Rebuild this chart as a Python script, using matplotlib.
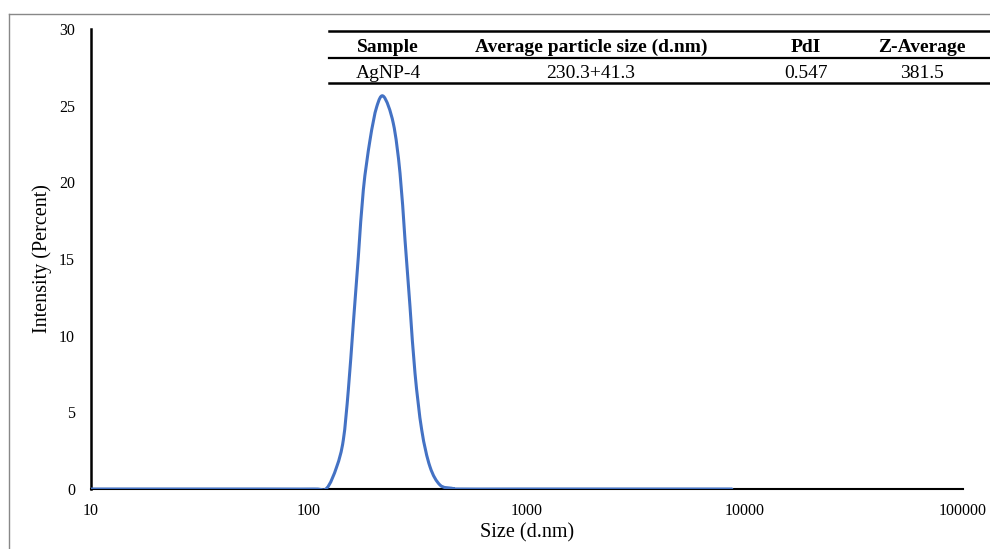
import numpy as np
import matplotlib
matplotlib.use("Agg")
import matplotlib.pyplot as plt
from matplotlib.lines import Line2D
from matplotlib.path import Path
from matplotlib.patches import PathPatch

plt.rcParams["font.family"] = ["Liberation Serif", "DejaVu Serif"]

# DLS intensity distribution
size_nm = [10, 60, 105.7, 120.5, 134.0, 143.7, 151.5, 159.7, 168.4, 177.5, 190.5,
           204.5, 220.0, 243.6, 261.5, 275.7, 290.6, 306.4, 328.9, 358.9,
           399.0, 451.4, 492.7, 1000, 8700]
intensity = [0, 0, 0, 0.05, 1.45, 3.2, 6.46, 10.8, 15.15, 19.5, 22.76,
             24.93, 25.6, 23.85, 20.6, 16.24, 11.9, 7.55, 3.85, 1.45,
             0.26, 0.05, 0, 0, 0]

# summary table
col_heads = ["Sample", "Average particle size (d.nm)", "PdI", "Z-Average"]
row_vals = ["AgNP-4", "230.3+41.3", "0.547", "381.5"]
col_x = [388, 591, 806, 922]

x_ticks = [10, 100, 1000, 10000, 100000]
y_ticks = [0, 5, 10, 15, 20, 25, 30]


def smooth_path(xs, ys):
    # Excel-style smoothed line: Catmull-Rom through the points (log x space)
    lx = np.log10(xs)
    ys = np.asarray(ys, float)
    n = len(lx)
    verts = [(lx[0], ys[0])]
    codes = [Path.MOVETO]
    for i in range(n - 1):
        i0, i3 = max(i - 1, 0), min(i + 2, n - 1)
        c1 = (lx[i] + (lx[i + 1] - lx[i0]) / 6, ys[i] + (ys[i + 1] - ys[i0]) / 6)
        c2 = (lx[i + 1] - (lx[i3] - lx[i]) / 6, ys[i + 1] - (ys[i3] - ys[i]) / 6)
        verts += [c1, c2, (lx[i + 1], ys[i + 1])]
        codes += [Path.CURVE4] * 3
    verts = [(10 ** vx, vy) for vx, vy in verts]
    return Path(verts, codes)


W, H = 990, 549
fig = plt.figure(figsize=(W / 100, H / 100), dpi=100)
ax = fig.add_axes([91 / W, 1 - 489 / H, (963 - 91) / W, (489 - 29) / H])

ax.add_patch(PathPatch(smooth_path(size_nm, intensity), facecolor="none",
                       edgecolor="#4472C4", lw=2.2, capstyle="round", zorder=3))
ax.set_xscale("log")
ax.set_xlim(10, 100000)
ax.set_ylim(0, 30)
ax.set_xticks(x_ticks)
ax.set_xticklabels([str(t) for t in x_ticks])
ax.minorticks_off()
ax.set_yticks(y_ticks)
ax.tick_params(length=0, labelsize=11.5)
ax.tick_params(axis="y", pad=11.5)
ax.tick_params(axis="x", pad=10)

for s in ["top", "right"]:
    ax.spines[s].set_visible(False)
ax.spines["left"].set_linewidth(1.8)
ax.spines["bottom"].set_linewidth(1.5)

ax.set_xlabel("Size (d.nm)", fontsize=14.5, labelpad=3)
ax.set_ylabel("Intensity (Percent)", fontsize=14.5, labelpad=5)

# table rules
for y, lw in [(30.7, 1.8), (57.7, 1.6), (83.3, 1.8)]:
    fig.add_artist(Line2D([329 / W, 990 / W], [1 - y / H, 1 - y / H],
                          color="black", lw=lw, transform=fig.transFigure))
for x, head, val in zip(col_x, col_heads, row_vals):
    fig.text(x / W, 1 - 52 / H, head, ha="center", va="baseline",
             fontsize=14, fontweight="bold")
    fig.text(x / W, 1 - 78 / H, val, ha="center", va="baseline", fontsize=14)

# outer frame lines at top and left
fig.add_artist(Line2D([9 / W, 1], [1 - 14 / H, 1 - 14 / H], color="#888888", lw=1,
                      transform=fig.transFigure))
fig.add_artist(Line2D([9 / W, 9 / W], [0, 1 - 14 / H], color="#888888", lw=1,
                      transform=fig.transFigure))

fig.savefig("out.png", dpi=100)
